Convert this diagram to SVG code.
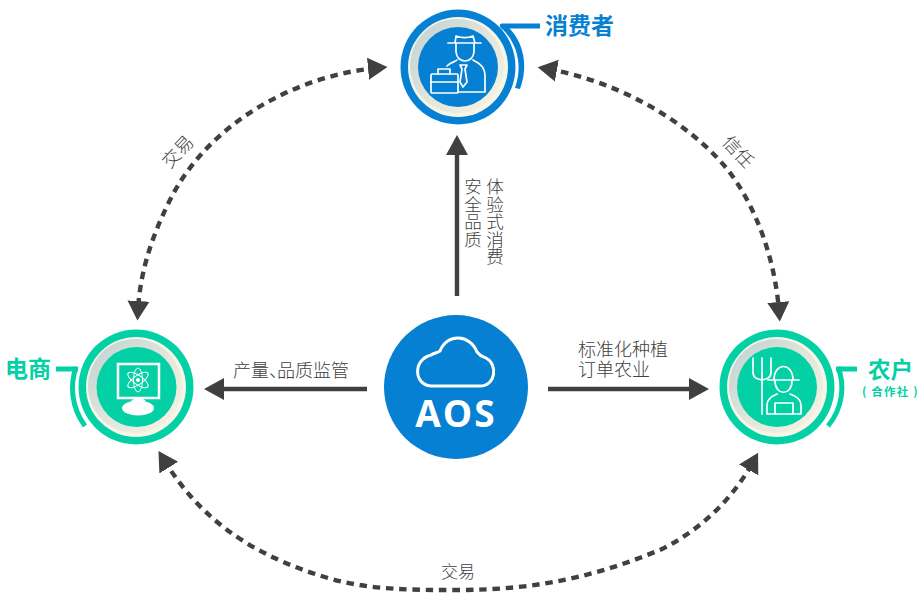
<svg xmlns="http://www.w3.org/2000/svg" width="920" height="610" viewBox="0 0 920 610">
<style>
.cjk{font-family:"Noto Sans CJK SC","Noto Sans",sans-serif}
.lab{font-size:18px;fill:#404040;font-weight:300}
.dash{fill:none;stroke:#404040;stroke-width:4.4;stroke-dasharray:7.5 5.8;marker-start:url(#h);marker-end:url(#h)}
.solid{fill:none;stroke:#404040;stroke-width:4.4;marker-end:url(#h2)}
.ic{fill:none;stroke:#fff;stroke-width:1.7;stroke-linejoin:round;stroke-linecap:round}
.ttl{font-weight:700;font-size:23px}
.blue{fill:#0680d3}.green{fill:#03d0a4}
.sb{fill:none;stroke:#0680d3}.sg{fill:none;stroke:#03d0a4}
.ring{fill:#f7f5e8}
.shade{fill:url(#sh)}
</style>
<defs>
<linearGradient id="sh" x1="0.1" y1="0.1" x2="0.95" y2="0.9"><stop offset="0" stop-color="#c6d5d4"/><stop offset="0.55" stop-color="#e4e7dd"/><stop offset="1" stop-color="#f5f3e2"/></linearGradient>
<marker id="h" markerUnits="userSpaceOnUse" markerWidth="24" markerHeight="26" refX="9" refY="13" orient="auto-start-reverse"><path d="M0 2L19.5 13L0 24Z" fill="#404040"/></marker>
<marker id="h2" markerUnits="userSpaceOnUse" markerWidth="24" markerHeight="26" refX="9" refY="13" orient="auto"><path d="M0 2L20 13L0 24Z" fill="#404040"/></marker>
</defs>
<g id="connectors">
<path class="dash" d="M377 68C300 75 210 120 170 200C150 240 140 275 138 310"/>
<path class="dash" d="M548 69C615 81 685 118 728 170C757 208 775 260 779 311"/>
<path class="dash" d="M164 460C195 510 240 552 328 578C370 590 410 590 458 590C540 590 600 575 662 549C700 530 732 500 753 462"/>
<path class="solid" d="M457 296V146"/>
<path class="solid" d="M367 389H215"/>
<path class="solid" d="M548 389H698"/>
<text class="cjk lab" text-anchor="middle" y="6" transform="translate(178 152) rotate(-47)">交易</text>
<text class="cjk lab" text-anchor="middle" y="6" transform="translate(738 152) rotate(47)">信任</text>
<text class="cjk lab" style="font-size:17px" x="441" y="578">交易</text>
<text class="cjk lab" x="233" y="376.5" dx="0 0 0 -10">产量、品质监管</text>
<text class="cjk lab"><tspan x="578" y="355.5">标准化种植</tspan><tspan x="578" y="376">订单农业</tspan></text>
<text class="cjk lab" style="writing-mode:vertical-rl;font-size:17.5px" x="473" y="178">安全品质</text>
<text class="cjk lab" style="writing-mode:vertical-rl;font-size:17.5px" x="495" y="178">体验式消费</text>
</g>
<g id="aos">
<circle class="blue" cx="456" cy="387" r="72"/>
<path d="M432 386C414 386 412 360 431 355C434 353 437 353 440 351C447 333 470 334 477 352C481 357 484 357 486 358C498 364 496 386 480 386Z" fill="none" stroke="#fff" stroke-width="3"/>
<text x="456" y="427" text-anchor="middle" font-family="'Open Sans','Noto Sans',sans-serif" font-weight="700" font-size="37" letter-spacing="2" fill="#fff">AOS</text>
</g>
<g id="consumer">
<circle class="blue" cx="458" cy="67" r="57.5"/>
<circle class="ring" cx="458" cy="67" r="50"/>
<circle class="shade" cx="457" cy="66" r="47"/>
<circle class="blue" cx="458" cy="67" r="40"/>
<path fill="#0680d3" d="M500 24L506 25C521 38 530 62 520 89L515 88C524 62 515 40 500 27Z"/>
<path class="sb" stroke-width="5" d="M501 26H540"/>
<text class="cjk ttl" x="545" y="34" fill="#0680d3">消费者</text>
<g class="ic">
<path d="M448 43H481M455 43L456 36C461 38 468 38 473 36L475 43M456 44V52C457 64 473 64 474 52V44"/>
<path d="M447 66C451 62 455 62 457 60M473 60C481 64 485 68 485 76V92H458"/>
<path d="M460 65H467L465 69L467 82L463 87L460 82L462 69Z"/>
<rect x="431" y="74" width="27" height="19" rx="1"/>
<path d="M431 82H458M438 74V69H450V74"/>
</g>
</g>
<g id="ecommerce">
<circle class="green" cx="136" cy="387" r="57.5"/>
<circle class="ring" cx="136" cy="387" r="50"/>
<circle class="shade" cx="135" cy="386" r="47"/>
<circle class="green" cx="136.5" cy="387" r="40"/>
<path class="sg" stroke-width="5" d="M76 367C70 385 71 407 85 426"/>
<path class="sg" stroke-width="5" d="M56 369H78"/>
<text class="cjk ttl" x="5" y="377" fill="#03d0a4">电商</text>
<rect x="118" y="364" width="41" height="34" fill="none" stroke="#fff" stroke-width="2.5"/>
<ellipse cx="138" cy="408" rx="16" ry="7.5" fill="#fff"/>
<path d="M135 398L131 401H146L142 398Z" fill="#fff"/>
<g class="ic" style="stroke-width:1">
<ellipse cx="138" cy="380" rx="12" ry="4.5" transform="rotate(35 138 380)"/>
<ellipse cx="138" cy="380" rx="12" ry="4.5" transform="rotate(-35 138 380)"/>
<ellipse cx="138" cy="380" rx="4.5" ry="12"/>
</g>
<circle cx="138" cy="380" r="2" fill="#fff"/>
</g>
<g id="farmer">
<circle class="green" cx="777" cy="387" r="57.5"/>
<circle class="ring" cx="777" cy="387" r="50"/>
<circle class="shade" cx="776" cy="386" r="47"/>
<circle class="green" cx="777" cy="387" r="40"/>
<path class="sg" stroke-width="5" d="M838 367C845 385 843 408 828 426"/>
<path class="sg" stroke-width="5" d="M836 369H857"/>
<text class="cjk" fill="#03d0a4" font-weight="700"><tspan x="868" y="378" font-size="22.5">农户</tspan><tspan x="862" y="396" font-size="11.5" letter-spacing="1.2">( 合作社 )</tspan></text>
<g class="ic">
<path d="M762 358V414M753 358V372C753 378 757 379 762 380C767 379 771 378 771 372V358"/>
<path d="M768 380H799M774 380C774 362 793 362 793 380M775 381C775 396 792 396 792 381"/>
<path d="M767 414V405C767 399 772 396 777 394M801 414V405C801 399 796 396 790 394M767 414H801M775 403V414M793 403V414M775 403H793"/>
</g>
</g>
</svg>
